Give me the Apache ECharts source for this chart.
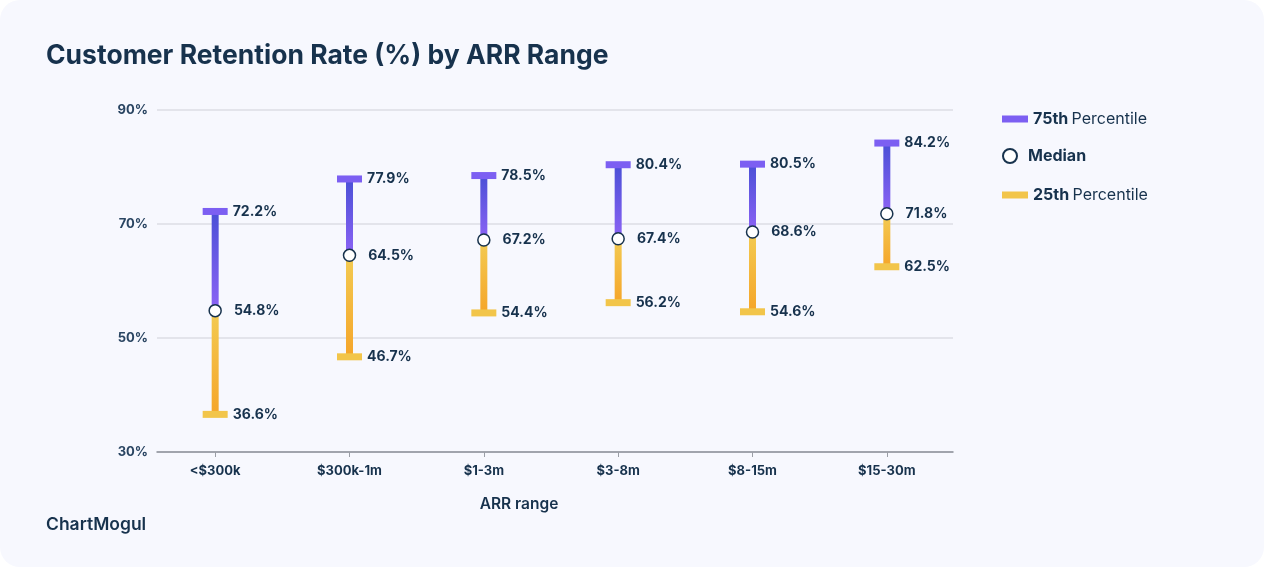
<!DOCTYPE html>
<html>
<head>
<meta charset="utf-8">
<script src="https://cdn.jsdelivr.net/npm/echarts@6/dist/echarts.min.js"></script>
<style>
  html, body { margin: 0; padding: 0; background: #ffffff; }
  #chart { width: 1264px; height: 567px; background: #f7f8fe; border-radius: 20px; overflow: hidden; }
</style>
</head>
<body>
<div id="chart"></div>
<script>
// values
const ranges = ['<$300k', '$300k-1m', '$1-3m', '$3-8m', '$8-15m', '$15-30m']
const p75 = [72.2, 77.9, 78.5, 80.4, 80.5, 84.2]
const median = [54.8, 64.5, 67.2, 67.4, 68.6, 71.8]
const p25 = [36.6, 46.7, 54.4, 56.2, 54.6, 62.5]
const yTicks = [30, 50, 70, 90]

const navy = '#17324d'
const font = 'Inter, "Noto Sans", sans-serif'

const lowerPart = median.map((m, i) => +(m - p25[i]).toFixed(1))
const upperPart = p75.map((v, i) => +(v - median[i]).toFixed(1))

const pctLabel = (dist) => ({
  show: true,
  position: 'right',
  distance: dist,
  formatter: p => p.value.toFixed(1) + '%',
  color: navy,
  fontFamily: font,
  fontWeight: 700,
  fontSize: 14,
})

const legendRich = {
  b: { fontFamily: font, fontWeight: 700, fontSize: 16, color: navy },
  n: { fontFamily: font, fontWeight: 400, fontSize: 16, color: navy },
}

const chart = echarts.init(document.getElementById('chart'))

const options = {
  backgroundColor: 'transparent',
  animation: false,
  title: {
    text: 'Customer Retention Rate (%) by ARR Range',
    left: 41,
    top: 38,
    textStyle: { color: navy, fontFamily: font, fontWeight: 700, fontSize: 26.5 },
  },
  legend: [
    {
      data: [{ name: '75th Percentile', icon: 'rect' }],
      left: 997, top: 106, itemWidth: 26, itemHeight: 7,
      formatter: '{b|75th} {n|Percentile}',
      textStyle: { rich: legendRich },
      selectedMode: false,
    },
    {
      data: [{ name: 'Median', icon: 'circle' }],
      left: 997, top: 143, itemWidth: 26, itemHeight: 14,
      textStyle: { fontFamily: font, fontWeight: 700, fontSize: 16, color: navy },
      selectedMode: false,
    },
    {
      data: [{ name: '25th Percentile', icon: 'rect' }],
      left: 997, top: 182, itemWidth: 26, itemHeight: 7,
      formatter: '{b|25th} {n|Percentile}',
      textStyle: { rich: legendRich },
      selectedMode: false,
    },
  ],
  graphic: [{
    type: 'text',
    left: 46,
    top: 516,
    style: { text: 'ChartMogul', fill: navy, font: '600 17.5px ' + font },
  }],
  grid: [
    // frame: y labels, split lines, axis line
    { left: 157, right: 311, top: 110, bottom: 115 },
    // marks: categories spaced like the reference
    { left: 148, right: 310, top: 110, bottom: 115 },
  ],
  xAxis: [
    {
      gridIndex: 0, type: 'value', min: 0, max: 1,
      axisLine: { show: true, lineStyle: { color: '#8a8f99', width: 1.5 } },
      axisTick: { show: false }, axisLabel: { show: false }, splitLine: { show: false },
    },
    {
      gridIndex: 1, type: 'category', data: ranges,
      axisLine: { show: false },
      axisTick: { show: true, alignWithLabel: true, length: 5, lineStyle: { color: '#9a9ea6' } },
      axisLabel: { margin: 13, color: navy, fontFamily: font, fontWeight: 700, fontSize: 13 },
      name: 'ARR range', nameLocation: 'middle', nameGap: 44,
      nameTextStyle: { color: navy, fontFamily: font, fontWeight: 600, fontSize: 15.5, padding: [0, 64, 0, 0] },
    },
  ],
  yAxis: [
    {
      gridIndex: 0, type: 'value', min: yTicks[0], max: yTicks[yTicks.length - 1], interval: 20,
      axisLine: { show: false }, axisTick: { show: false },
      axisLabel: { margin: 9, color: '#2a4562', fontFamily: font, fontWeight: 700, fontSize: 13, formatter: '{value}%' },
      splitLine: { lineStyle: { color: '#dcdee4', width: 1.5 } },
    },
    {
      gridIndex: 1, type: 'value', min: yTicks[0], max: yTicks[yTicks.length - 1], interval: 20,
      show: false,
    },
  ],
  series: [
    {
      type: 'bar', xAxisIndex: 1, yAxisIndex: 1, stack: 'range', barWidth: 7,
      data: p25, itemStyle: { color: 'transparent' }, silent: true,
    },
    {
      type: 'bar', xAxisIndex: 1, yAxisIndex: 1, stack: 'range', barWidth: 7,
      data: lowerPart,
      itemStyle: { color: new echarts.graphic.LinearGradient(0, 0, 0, 1, [
        { offset: 0, color: '#f3cb52' }, { offset: 1, color: '#f5a52a' },
      ]) },
    },
    {
      type: 'bar', xAxisIndex: 1, yAxisIndex: 1, stack: 'range', barWidth: 7,
      data: upperPart,
      itemStyle: { color: new echarts.graphic.LinearGradient(0, 0, 0, 1, [
        { offset: 0, color: '#4a50d6' }, { offset: 1, color: '#8c63f5' },
      ]) },
    },
    {
      name: '75th Percentile', type: 'scatter', xAxisIndex: 1, yAxisIndex: 1,
      symbol: 'rect', symbolSize: [25, 7], z: 3,
      data: p75, itemStyle: { color: '#7c5ff2', opacity: 1 },
      label: pctLabel(5),
    },
    {
      name: '25th Percentile', type: 'scatter', xAxisIndex: 1, yAxisIndex: 1,
      symbol: 'rect', symbolSize: [25, 7], z: 3,
      data: p25, itemStyle: { color: '#f2c54a', opacity: 1 },
      label: pctLabel(5),
    },
    {
      name: 'Median', type: 'scatter', xAxisIndex: 1, yAxisIndex: 1,
      symbol: 'circle', symbolSize: 12, z: 4,
      data: median, itemStyle: { color: '#ffffff', borderColor: navy, borderWidth: 1.5, opacity: 1 },
      label: pctLabel(12),
    },
  ],
}

chart.setOption(options)
</script>
</body>
</html>
